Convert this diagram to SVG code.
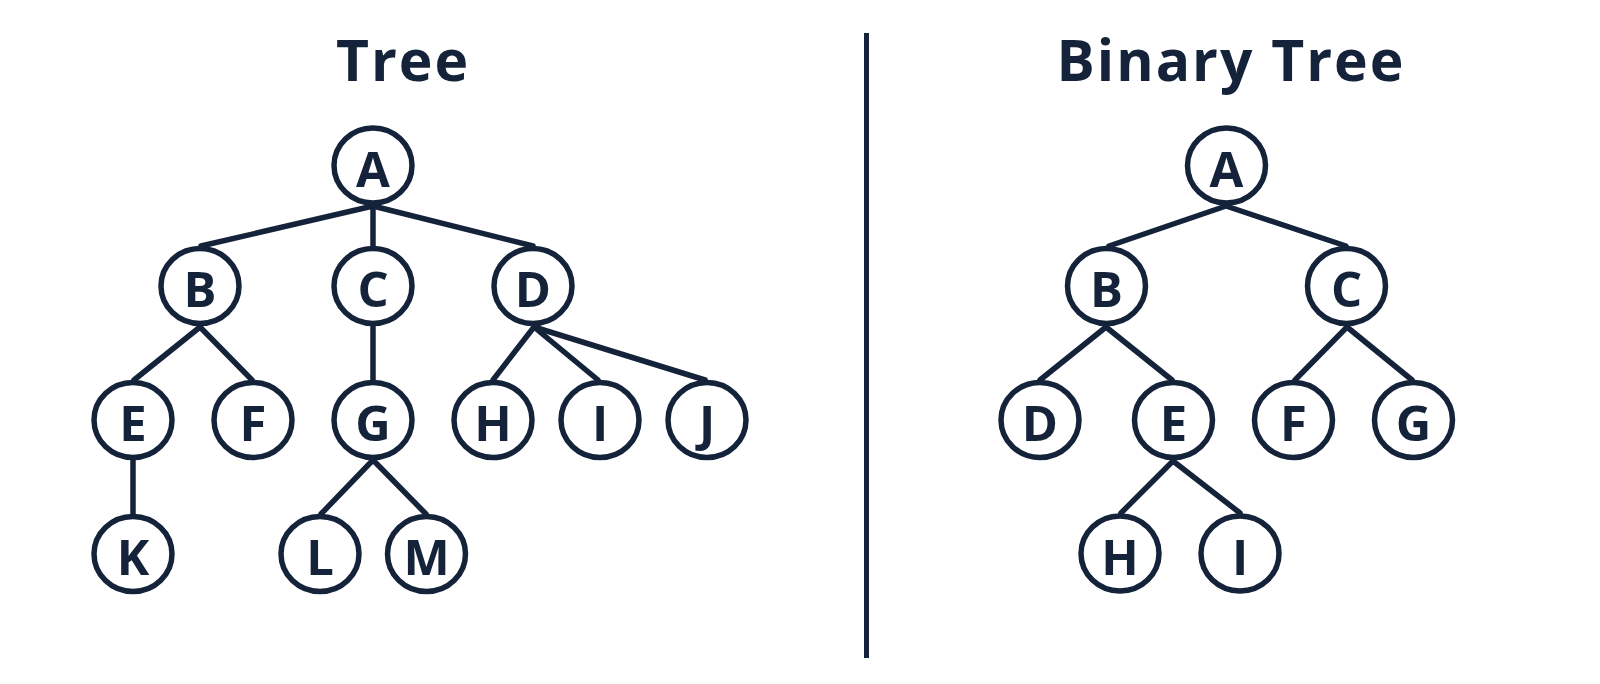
<svg xmlns="http://www.w3.org/2000/svg" width="1600" height="684" viewBox="0 0 1600 684">
<style>
.n ellipse{fill:#fff;stroke:#14233a;stroke-width:5.5}
.n text{font-family:"Open Sans","Liberation Sans",sans-serif;font-weight:700;font-size:49px;fill:#14233a;text-anchor:middle}
.t{font-family:"Open Sans","Liberation Sans",sans-serif;font-weight:700;font-size:57px;letter-spacing:2px;fill:#14233a;text-anchor:middle}
#edges line{stroke:#14233a;stroke-width:5.5;stroke-linecap:round}
</style>
<rect width="1600" height="684" fill="#fff"/>
<text class="t" x="403" y="81">Tree</text>
<text class="t" x="1231" y="81">Binary Tree</text>
<line x1="866.5" y1="33" x2="866.5" y2="658" stroke="#14233a" stroke-width="5"/>
<g id="edges">
<line x1="373" y1="206" x2="201" y2="246"/>
<line x1="373" y1="206" x2="373" y2="246"/>
<line x1="373" y1="206" x2="533" y2="246"/>
<line x1="200" y1="327" x2="134" y2="380"/>
<line x1="200" y1="327" x2="252" y2="380"/>
<line x1="373" y1="327" x2="373" y2="380"/>
<line x1="534" y1="327" x2="493" y2="380"/>
<line x1="534" y1="327" x2="598" y2="380"/>
<line x1="534" y1="327" x2="705" y2="380"/>
<line x1="133" y1="460" x2="133" y2="514"/>
<line x1="373" y1="460" x2="321" y2="514"/>
<line x1="373" y1="460" x2="426" y2="514"/>
<line x1="1226" y1="206" x2="1109" y2="246"/>
<line x1="1226" y1="206" x2="1346" y2="246"/>
<line x1="1106" y1="327" x2="1040" y2="380"/>
<line x1="1106" y1="327" x2="1172" y2="380"/>
<line x1="1347" y1="327" x2="1295" y2="380"/>
<line x1="1347" y1="327" x2="1412" y2="380"/>
<line x1="1173" y1="461" x2="1121" y2="513"/>
<line x1="1173" y1="461" x2="1240" y2="513"/>
</g>
<g id="t-A" class="n"><ellipse cx="373" cy="165.5" rx="39" ry="37.5"/><text x="373" y="187">A</text></g>
<g id="t-B" class="n"><ellipse cx="200" cy="286" rx="39" ry="37.5"/><text x="200" y="307">B</text></g>
<g id="t-C" class="n"><ellipse cx="373" cy="286" rx="39" ry="37.5"/><text x="373" y="307">C</text></g>
<g id="t-D" class="n"><ellipse cx="533" cy="286" rx="39" ry="37.5"/><text x="533" y="307">D</text></g>
<g id="t-E" class="n"><ellipse cx="133" cy="420" rx="39" ry="37.5"/><text x="133" y="441">E</text></g>
<g id="t-F" class="n"><ellipse cx="253" cy="420" rx="39" ry="37.5"/><text x="253" y="441">F</text></g>
<g id="t-G" class="n"><ellipse cx="373" cy="420" rx="39" ry="37.5"/><text x="373" y="441">G</text></g>
<g id="t-H" class="n"><ellipse cx="493" cy="420" rx="39" ry="37.5"/><text x="493" y="441">H</text></g>
<g id="t-I" class="n"><ellipse cx="600" cy="420" rx="39" ry="37.5"/><text x="600" y="441">I</text></g>
<g id="t-J" class="n"><ellipse cx="707" cy="420" rx="39" ry="37.5"/><text x="707" y="441">J</text></g>
<g id="t-K" class="n"><ellipse cx="133" cy="554" rx="39" ry="37.5"/><text x="133" y="575">K</text></g>
<g id="t-L" class="n"><ellipse cx="320" cy="554" rx="39" ry="37.5"/><text x="320" y="575">L</text></g>
<g id="t-M" class="n"><ellipse cx="426.5" cy="554" rx="39" ry="37.5"/><text x="426.5" y="575">M</text></g>
<g id="b-A" class="n"><ellipse cx="1226.5" cy="165.5" rx="39" ry="37.5"/><text x="1226.5" y="187">A</text></g>
<g id="b-B" class="n"><ellipse cx="1106.5" cy="286" rx="39" ry="37.5"/><text x="1106.5" y="307">B</text></g>
<g id="b-C" class="n"><ellipse cx="1346.5" cy="286" rx="39" ry="37.5"/><text x="1346.5" y="307">C</text></g>
<g id="b-D" class="n"><ellipse cx="1040" cy="420" rx="39" ry="37.5"/><text x="1040" y="441">D</text></g>
<g id="b-E" class="n"><ellipse cx="1173.5" cy="420" rx="39" ry="37.5"/><text x="1173.5" y="441">E</text></g>
<g id="b-F" class="n"><ellipse cx="1293.5" cy="420" rx="39" ry="37.5"/><text x="1293.5" y="441">F</text></g>
<g id="b-G" class="n"><ellipse cx="1413.5" cy="420" rx="39" ry="37.5"/><text x="1413.5" y="441">G</text></g>
<g id="b-H" class="n"><ellipse cx="1120" cy="553.5" rx="39" ry="37.5"/><text x="1120" y="575">H</text></g>
<g id="b-I" class="n"><ellipse cx="1240" cy="553.5" rx="39" ry="37.5"/><text x="1240" y="575">I</text></g>
</svg>
